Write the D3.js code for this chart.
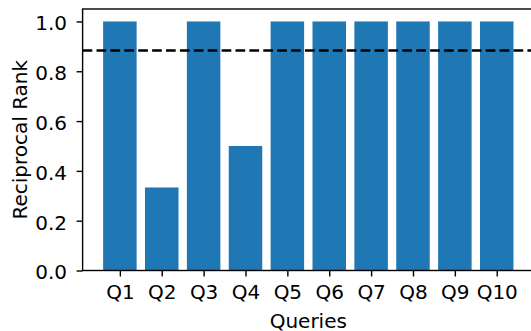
<!DOCTYPE html>
<html>
<head>
<meta charset="utf-8">
<script src="https://cdn.jsdelivr.net/npm/d3@7"></script>
<style>
  html, body { margin: 0; padding: 0; background: #fff; }
  svg { display: block; font-family: "DejaVu Sans", sans-serif; }
</style>
</head>
<body>
<svg id="chart" width="531" height="331"></svg>
<script>
// Reciprocal rank per query
const queries = ["Q1", "Q2", "Q3", "Q4", "Q5", "Q6", "Q7", "Q8", "Q9", "Q10"];
const reciprocalRank = [1, 1 / 3, 1, 0.5, 1, 1, 1, 1, 1, 1];
const yTicks = [0.0, 0.2, 0.4, 0.6, 0.8, 1.0];
const meanRR = d3.mean(reciprocalRank);

const svg = d3.select("#chart");
const plot = { left: 82.6, right: 534, top: 9, bottom: 270.5 };
const fontSize = 20;
const tickLen = 6;

// Index-based linear x scale with small margins around the bars
const barW = 0.8;
const xMin = -barW / 2, xMax = queries.length - 1 + barW / 2;
const xPad = (xMax - xMin) * 0.05;
const x = d3.scaleLinear().domain([xMin - xPad, xMax + xPad]).range([plot.left, plot.right]);
const y = d3.scaleLinear().domain([0, 1.05]).range([plot.bottom, plot.top]);

svg.append("defs").append("clipPath").attr("id", "plotclip")
  .append("rect").attr("x", plot.left).attr("y", plot.top)
  .attr("width", plot.right - plot.left).attr("height", plot.bottom - plot.top);

const g = svg.append("g").attr("clip-path", "url(#plotclip)");

g.selectAll("rect.bar").data(reciprocalRank).enter().append("rect")
  .attr("class", "bar")
  .attr("x", (d, i) => x(i - barW / 2))
  .attr("width", (d, i) => x(i + barW / 2) - x(i - barW / 2))
  .attr("y", d => y(d))
  .attr("height", d => y(0) - y(d))
  .attr("fill", "#1f77b4");

// Mean reciprocal rank
g.append("line")
  .attr("x1", plot.left).attr("x2", plot.right)
  .attr("y1", y(meanRR)).attr("y2", y(meanRR))
  .attr("stroke", "#000").attr("stroke-width", 2.6)
  .attr("stroke-dasharray", "9.7,4.2");

// Frame
svg.append("rect")
  .attr("x", plot.left).attr("y", plot.top)
  .attr("width", plot.right - plot.left).attr("height", plot.bottom - plot.top)
  .attr("fill", "none").attr("stroke", "#000").attr("stroke-width", 1.4);

// Y axis
const yAxis = d3.axisLeft(y).tickValues(yTicks).tickFormat(d3.format(".1f"))
  .tickSize(tickLen).tickPadding(9.5);
const ya = svg.append("g").attr("transform", `translate(${plot.left},0)`).call(yAxis);
ya.select(".domain").remove();
ya.selectAll(".tick line").attr("stroke-width", 1.4);
ya.selectAll(".tick text").attr("font-size", fontSize).attr("font-family", "DejaVu Sans")
  .attr("fill", "#000").attr("dy", "0.42em");

// X axis
const xAxis = d3.axisBottom(x).tickValues(d3.range(queries.length)).tickFormat(i => queries[i])
  .tickSize(tickLen).tickPadding(8.5);
const xa = svg.append("g").attr("transform", `translate(0,${plot.bottom})`).call(xAxis);
xa.select(".domain").remove();
xa.selectAll(".tick line").attr("stroke-width", 1.4);
xa.selectAll(".tick text").attr("font-size", fontSize).attr("font-family", "DejaVu Sans").attr("fill", "#000");

// Axis labels
svg.append("text")
  .attr("x", (plot.left + plot.right) / 2).attr("y", 327.5)
  .attr("text-anchor", "middle").attr("font-size", fontSize)
  .text("Queries");

svg.append("text")
  .attr("transform", `translate(27,${(plot.top + plot.bottom) / 2}) rotate(-90)`)
  .attr("text-anchor", "middle").attr("font-size", fontSize)
  .text("Reciprocal Rank");
</script>
</body>
</html>
